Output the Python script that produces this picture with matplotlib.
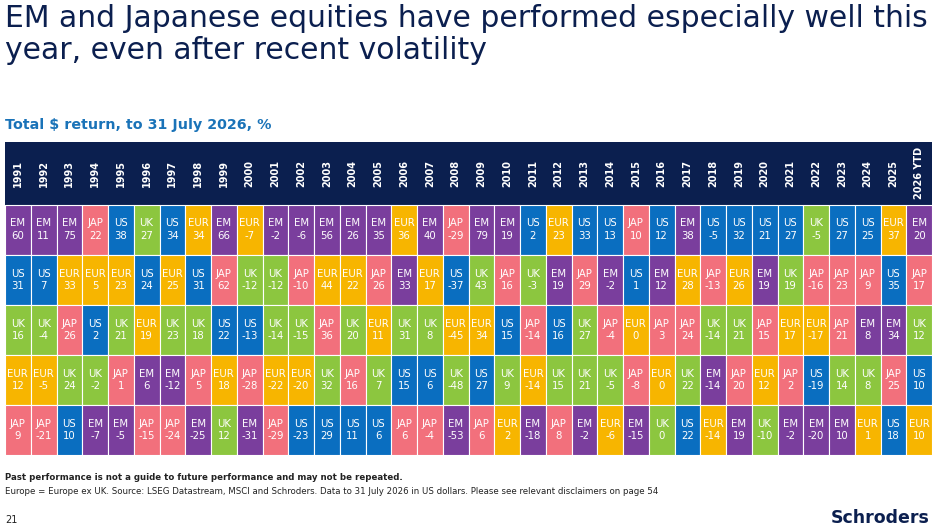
import matplotlib.pyplot as plt
from matplotlib.patches import Rectangle

years = [str(y) for y in range(1991, 2026)] + ["2026 YTD"]

row1 = [("EM",60),("EM",11),("EM",75),("JAP",22),("US",38),("UK",27),("US",34),("EUR",34),("EM",66),("EUR",-7),
        ("EM",-2),("EM",-6),("EM",56),("EM",26),("EM",35),("EUR",36),("EM",40),("JAP",-29),("EM",79),("EM",19),
        ("US",2),("EUR",23),("US",33),("US",13),("JAP",10),("US",12),("EM",38),("US",-5),("US",32),("US",21),
        ("US",27),("UK",-5),("US",27),("US",25),("EUR",37),("EM",20)]
row2 = [("US",31),("US",7),("EUR",33),("EUR",5),("EUR",23),("US",24),("EUR",25),("US",31),("JAP",62),("UK",-12),
        ("UK",-12),("JAP",-10),("EUR",44),("EUR",22),("JAP",26),("EM",33),("EUR",17),("US",-37),("UK",43),("JAP",16),
        ("UK",-3),("EM",19),("JAP",29),("EM",-2),("US",1),("EM",12),("EUR",28),("JAP",-13),("EUR",26),("EM",19),
        ("UK",19),("JAP",-16),("JAP",23),("JAP",9),("US",35),("JAP",17)]
row3 = [("UK",16),("UK",-4),("JAP",26),("US",2),("UK",21),("EUR",19),("UK",23),("UK",18),("US",22),("US",-13),
        ("UK",-14),("UK",-15),("JAP",36),("UK",20),("EUR",11),("UK",31),("UK",8),("EUR",-45),("EUR",34),("US",15),
        ("JAP",-14),("US",16),("UK",27),("JAP",-4),("EUR",0),("JAP",3),("JAP",24),("UK",-14),("UK",21),("JAP",15),
        ("EUR",17),("EUR",-17),("JAP",21),("EM",8),("EM",34),("UK",12)]
row4 = [("EUR",12),("EUR",-5),("UK",24),("UK",-2),("JAP",1),("EM",6),("EM",-12),("JAP",5),("EUR",18),("JAP",-28),
        ("EUR",-22),("EUR",-20),("UK",32),("JAP",16),("UK",7),("US",15),("US",6),("UK",-48),("US",27),("UK",9),
        ("EUR",-14),("UK",15),("UK",21),("UK",-5),("JAP",-8),("EUR",0),("UK",22),("EM",-14),("JAP",20),("EUR",12),
        ("JAP",2),("US",-19),("UK",14),("UK",8),("JAP",25),("US",10)]
row5 = [("JAP",9),("JAP",-21),("US",10),("EM",-7),("EM",-5),("JAP",-15),("JAP",-24),("EM",-25),("UK",12),("EM",-31),
        ("JAP",-29),("US",-23),("US",29),("US",11),("US",6),("JAP",6),("JAP",-4),("EM",-53),("JAP",6),("EUR",2),
        ("EM",-18),("JAP",8),("EM",-2),("EUR",-6),("EM",-15),("UK",0),("US",22),("EUR",-14),("EM",19),("UK",-10),
        ("EM",-2),("EM",-20),("EM",10),("EUR",1),("US",18),("EUR",10)]
rows = [row1, row2, row3, row4, row5]

colors = {"EM": "#7A3E9D", "US": "#0A6EC0", "UK": "#8CC63F", "JAP": "#F2707C", "EUR": "#F7B500"}
navy = "#0B1F4F"

fig = plt.figure(figsize=(9.39, 5.31), dpi=100)
W, H = 939, 531

fig.text(5/W, 1-4/H, "EM and Japanese equities have performed especially well this\nyear, even after recent volatility",
         color=navy, fontsize=21.5, va="top", ha="left", linespacing=1.15)
fig.text(5/W, 1-125/H, "Total $ return, to 31 July 2026, %", color="#1A73B8", fontsize=10.3,
         fontweight="bold", va="center")

ax = fig.add_axes([5/W, 1-455/H, 927/W, 313/H])
n = len(years)
hh = 1.25  # header height in row units
ax.set_xlim(0, n)
ax.set_ylim(5, -hh)
ax.axis("off")
for i, y in enumerate(years):
    ax.add_patch(Rectangle((i, -hh), 1, hh, color=navy, lw=0))
    ax.text(i + 0.5, -hh / 2, y, rotation=90, color="white", fontsize=7, fontweight="bold",
            ha="center", va="center")
for r, row in enumerate(rows):
    for i, (reg, val) in enumerate(row):
        ax.add_patch(Rectangle((i, r), 1, 1, facecolor=colors[reg], edgecolor="white", lw=0.8))
        ax.text(i + 0.5, r + 0.5, f"{reg}\n{val}", color="white", fontsize=7.3, ha="center",
                va="center", linespacing=1.3)

fig.text(5/W, 1-478/H, "Past performance is not a guide to future performance and may not be repeated.",
         fontsize=6.2, fontweight="bold", color="#222222", va="center")
fig.text(5/W, 1-491/H, "Europe = Europe ex UK. Source: LSEG Datastream, MSCI and Schroders. Data to 31 July 2026 in US dollars. "
         "Please see relevant disclaimers on page 54", fontsize=6.2, color="#222222", va="center")
fig.text(5/W, 1-520/H, "21", fontsize=7, color="#222222", va="center")
fig.text(930/W, 1-518/H, "Schroders", fontsize=12.5, fontweight="bold", color=navy, ha="right", va="center")

fig.savefig("out.png", dpi=100)
